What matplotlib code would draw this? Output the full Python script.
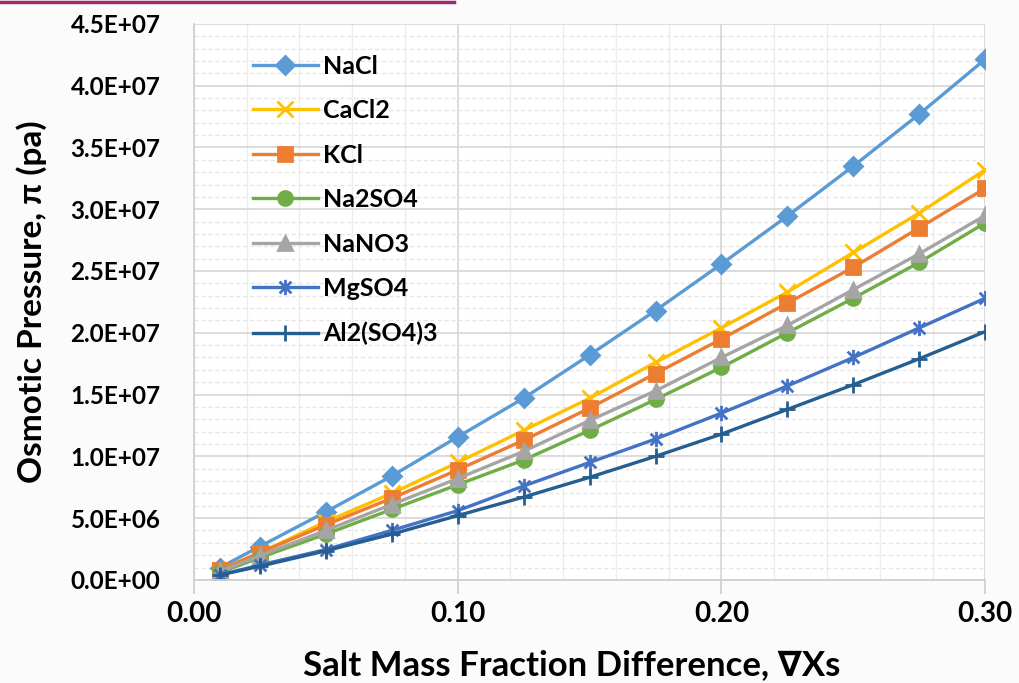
import matplotlib.pyplot as plt
from matplotlib.path import Path
from matplotlib.ticker import MultipleLocator

plt.rcParams['font.family'] = ['Lato', 'DejaVu Sans']
plt.rcParams['font.weight'] = 'bold'

# salt mass fraction difference
dxs = [0.01, 0.025, 0.05, 0.075, 0.10, 0.125, 0.15, 0.175, 0.20, 0.225, 0.25, 0.275, 0.30]

# osmotic pressure (Pa) for each salt
nacl = [1.0e6, 2.7e6, 5.5e6, 8.4e6, 1.157e7, 1.47e7, 1.82e7, 2.18e7, 2.557e7, 2.945e7, 3.35e7, 3.77e7, 4.215e7]
cacl2 = [8.0e5, 2.2e6, 4.7e6, 7.0e6, 9.5e6, 1.21e7, 1.47e7, 1.76e7, 2.04e7, 2.33e7, 2.65e7, 2.97e7, 3.32e7]
kcl = [8.0e5, 2.2e6, 4.45e6, 6.6e6, 8.9e6, 1.13e7, 1.39e7, 1.67e7, 1.95e7, 2.24e7, 2.53e7, 2.85e7, 3.17e7]
na2so4 = [6.0e5, 1.8e6, 3.7e6, 5.7e6, 7.7e6, 9.7e6, 1.21e7, 1.46e7, 1.72e7, 2.0e7, 2.28e7, 2.57e7, 2.89e7]
nano3 = [7.0e5, 1.95e6, 4.0e6, 6.1e6, 8.2e6, 1.04e7, 1.29e7, 1.53e7, 1.8e7, 2.06e7, 2.35e7, 2.64e7, 2.95e7]
mgso4 = [4.0e5, 1.2e6, 2.45e6, 4.0e6, 5.6e6, 7.6e6, 9.5e6, 1.14e7, 1.35e7, 1.57e7, 1.8e7, 2.04e7, 2.28e7]
al2so43 = [4.0e5, 1.1e6, 2.35e6, 3.7e6, 5.2e6, 6.7e6, 8.3e6, 1.0e7, 1.18e7, 1.38e7, 1.58e7, 1.79e7, 2.01e7]

# asterisk marker: an x with a vertical stroke
star = Path([(-1, -1), (1, 1), (-1, 1), (1, -1), (0, -1.3), (0, 1.3)],
            [Path.MOVETO, Path.LINETO, Path.MOVETO, Path.LINETO, Path.MOVETO, Path.LINETO])

series = [
    ('NaCl', nacl, '#5B9BD5', 'D', 9),
    ('CaCl2', cacl2, '#FFC000', 'x', 11),
    ('KCl', kcl, '#ED7D31', 's', 10),
    ('Na2SO4', na2so4, '#70AD47', 'o', 10),
    ('NaNO3', nano3, '#A5A5A5', '^', 10),
    ('MgSO4', mgso4, '#4472C4', star, 11),
    ('Al2(SO4)3', al2so43, '#255E91', '+', 12),
]

fig = plt.figure(figsize=(10.2, 6.83), dpi=100, facecolor='#FBFBFB')
ax = fig.add_axes([0.190, 0.151, 0.776, 0.814])
ax.set_facecolor('white')

for name, vals, col, mk, ms in series:
    ax.plot(dxs, vals, color=col, lw=2.4, marker=mk, markersize=ms,
            markeredgewidth=2, markeredgecolor=col, markerfacecolor=col, label=name)

ax.set_xlim(0, 0.30)
ax.set_ylim(0, 4.5e7)
ax.xaxis.set_major_locator(MultipleLocator(0.10))
ax.xaxis.set_minor_locator(MultipleLocator(0.02))
ax.yaxis.set_major_locator(MultipleLocator(5e6))
ax.yaxis.set_minor_locator(MultipleLocator(1e6))
ax.set_xticklabels([f'{v:.2f}' for v in ax.get_xticks()])
ax.set_yticklabels([f'{v:.1E}' for v in ax.get_yticks()])

ax.grid(which='major', color='#D9D9D9', lw=1.3)
ax.grid(which='minor', axis='x', color='#EDEDED', lw=1.0)
ax.grid(which='minor', axis='y', color='#E6E6E6', lw=1.0, ls=(0, (3, 2)))
ax.set_axisbelow(True)

for s in ['top', 'right']:
    ax.spines[s].set_visible(False)
for s in ['left', 'bottom']:
    ax.spines[s].set_color('#D0D0D0')
    ax.spines[s].set_linewidth(1.3)

ax.tick_params(axis='x', which='major', length=10, width=1.3, color='#D0D0D0',
               labelsize=20, pad=5)
ax.tick_params(axis='y', which='major', length=0, labelsize=17.5, pad=24)
ax.tick_params(which='minor', length=0)

ax.set_xlabel('Salt Mass Fraction Difference, \u2207Xs', fontsize=25, fontweight='bold')
ax.set_ylabel('Osmotic Pressure, \u03c0 (pa)', fontsize=24, fontweight='bold')
ax.xaxis.set_label_coords(0.478, -0.125)
ax.yaxis.set_label_coords(-0.186, 0.5)

leg = ax.legend(loc='upper left', bbox_to_anchor=(0.046, 0.985), frameon=False,
                fontsize=18, handlelength=2.6, labelspacing=0.86, handletextpad=0.2)
for t in leg.get_texts():
    t.set_fontweight('bold')

# underline fragment along the top edge
fig.add_artist(plt.Line2D([0.0, 0.445], [0.997, 0.997], color='#9B2D6E', lw=2.5))

fig.savefig('out.png', dpi=100, facecolor=fig.get_facecolor())
